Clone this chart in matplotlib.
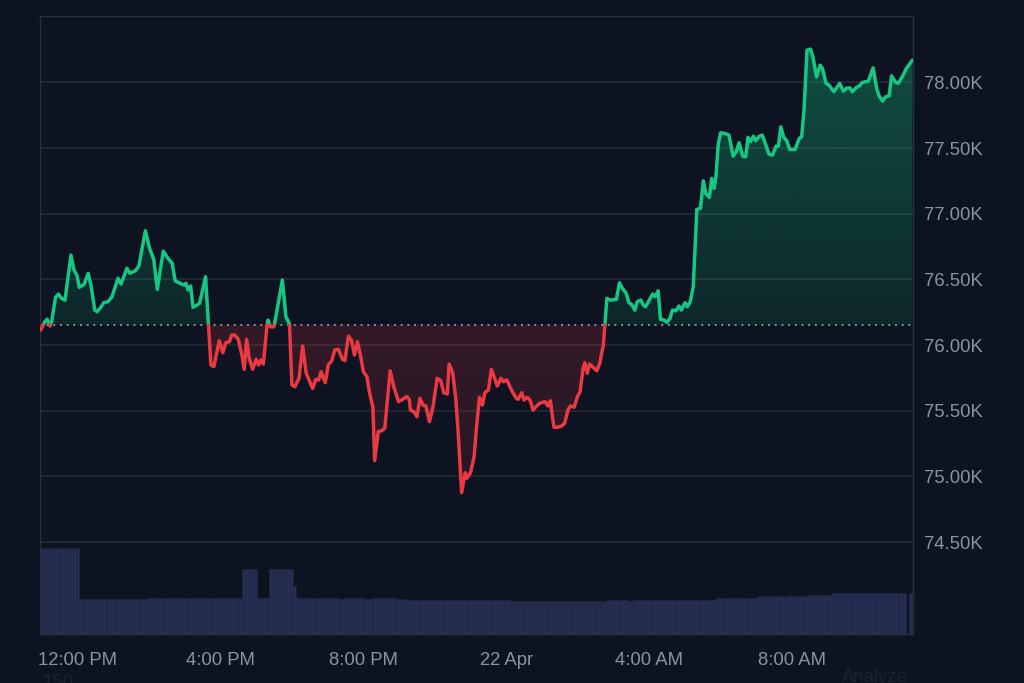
#!/usr/bin/env python3
"""
24h price chart with baseline colouring and a volume strip underneath.
"""

import numpy as np
import matplotlib
matplotlib.use("Agg")
import matplotlib.pyplot as plt
import matplotlib.colors as mcolors

# minutes relative to 12:00 PM
times = [
    -62, -55, -51, -46, -43, -37, -32, -27, -21, -11, -6, -1, 3, 11, 18, 23, 29, 33, 39, 44,
    51, 58, 68, 73, 83, 88, 97, 103, 114, 121, 128, 134, 144, 152, 159, 164, 172, 179, 182, 186,
    190, 194, 205, 215,
    224, 229, 238, 244, 249, 255, 259, 264, 270, 276, 280, 284, 288, 294, 300, 304, 308, 312, 318, 320,
    324, 330, 344, 350, 356, 360, 365, 372, 378, 384, 390, 395, 400, 405, 409, 416, 421, 427, 432, 438,
    445, 449, 455, 460, 465, 470, 475, 480, 486, 490, 496, 499, 505, 511, 516, 525, 531, 539, 546, 553,
    557, 559, 565, 570, 575, 580, 585, 591, 597, 604, 610, 615, 621, 624, 630, 635, 639, 645, 651, 654,
    660, 666, 670, 675, 680, 684, 690, 695, 699, 705, 711, 715, 721, 726, 731, 737, 740, 746, 750, 755,
    760, 765, 771, 776, 785, 790, 794, 800, 806, 813, 818, 824, 828, 834, 839, 844, 849, 852, 856, 860,
    866, 872, 877, 883,
    889, 895, 905, 910, 915, 921, 926, 930, 936, 940, 946, 950, 954, 960, 966, 970, 975, 979, 985, 990,
    995, 999, 1005, 1010, 1014, 1020, 1024, 1029, 1034, 1040, 1046, 1051, 1055, 1061, 1065, 1069, 1072,
    1076, 1080, 1087, 1094, 1101, 1106, 1111, 1117, 1122, 1126, 1130, 1135, 1139, 1145, 1150, 1156, 1161,
    1167, 1173, 1177, 1181, 1186, 1191, 1196, 1205, 1212, 1216, 1220, 1225, 1231, 1235, 1241, 1247, 1251,
    1257, 1262, 1270, 1276, 1280, 1286, 1291, 1297, 1301, 1307, 1313, 1318, 1328, 1332, 1336, 1342, 1346,
    1352, 1357, 1363, 1367, 1374, 1378, 1385, 1392, 1402,
]

prices = [
    76114, 76177, 76196, 76145, 76190, 76363, 76388, 76355, 76342, 76685, 76571, 76533, 76439, 76462,
    76546, 76444, 76266, 76253, 76287, 76322, 76330, 76368, 76508, 76464, 76584, 76546, 76565, 76601,
    76870, 76736, 76652, 76424, 76715, 76660, 76622, 76489, 76470, 76457, 76470, 76419, 76449, 76287,
    76317, 76520,
    75848, 75835, 76033, 75941, 76018, 76025, 76076, 76076, 76043, 75924, 75815, 76043, 75906, 75815,
    75891, 75848, 75886, 75855, 76145, 76190, 76139, 76139, 76495, 76215, 76160, 75696, 75683, 75747,
    75992, 75785, 75721, 75670, 75739, 75734, 75797, 75713, 75848, 75881, 75962, 75967, 75891, 75881,
    76068, 76038, 75924, 76025, 75924, 75797, 75759, 75645, 75526, 75120, 75340, 75348, 75366, 75804,
    75683, 75569, 75587, 75607, 75587, 75505, 75492, 75454, 75594, 75543, 75536, 75416, 75530, 75747,
    75728, 75637, 75627, 75855, 75789, 75602, 75353, 74876, 75028, 74986, 75028, 75150, 75374, 75602,
    75543, 75637, 75658, 75815, 75764, 75688, 75747, 75721, 75734, 75683, 75637, 75594, 75587, 75637,
    75581, 75602, 75581, 75505, 75536, 75556, 75569, 75536, 75576, 75374, 75374, 75384, 75404, 75511,
    75536, 75526, 75602, 75645, 75823, 75865, 75785, 75855, 75830, 75804, 75861, 76000,
    76355, 76342, 76348, 76474, 76431, 76398, 76322, 76312, 76266, 76330, 76342, 76304, 76291, 76342,
    76388, 76368, 76413, 76196, 76190, 76173, 76203, 76266, 76261, 76297, 76266, 76322, 76291, 76330,
    76444, 77033, 77040, 77250, 77154, 77124, 77269, 77192, 77281, 77530, 77616, 77611, 77598, 77438,
    77471, 77540, 77438, 77433, 77581, 77547, 77590, 77555, 77590, 77598, 77522, 77454, 77446, 77514,
    77514, 77661, 77581, 77555, 77489, 77489, 77573, 77585, 77788, 78245, 78253, 78194, 78042, 78131,
    78106, 77992, 77979, 77928, 77966, 77992, 77933, 77954, 77958, 77928, 77958, 77973, 77999, 78009,
    78060, 78110, 77954, 77897, 77857, 77890, 77897, 78049, 77999, 77992, 78042, 78106, 78169,
]

open_price = 76152

# volume stays flat for long stretches: (start minute, level)
vol_starts = [-63, 1, 117, 276, 301, 322, 362, 367, 437, 447, 483, 496, 536, 550, 729,
              889, 924, 933, 1074, 1144, 1186, 1190, 1228, 1265, 1394, 1398]
vol_levels = [857, 347, 363, 650, 363, 650, 480, 363, 347, 360, 347, 360, 350, 343, 330,
              343, 330, 343, 357, 377, 367, 377, 393, 413, 0, 413]

tick_minutes = [0, 240, 480, 720, 960, 1200]
tick_labels = ["12:00 PM", "4:00 PM", "8:00 PM", "22 Apr", "4:00 AM", "8:00 AM"]
price_ticks = [74500, 75000, 75500, 76000, 76500, 77000, 77500, 78000]

BG = "#0d1320"
GREEN = "#16c784"
RED = "#ea3943"
GRID = "#242a37"
TEXT = "#8b92a1"

plt.rcParams["font.family"] = ["Liberation Sans", "DejaVu Sans"]

t = np.array(times, dtype=float)
p = np.array(prices, dtype=float)

# add the points where the line crosses the open price so colours switch on the dotted line
tt, pp = [t[0]], [p[0]]
for i in range(1, len(t)):
    a, b = p[i - 1] - open_price, p[i] - open_price
    if a * b < 0:
        f = a / (a - b)
        tt.append(t[i - 1] + f * (t[i] - t[i - 1]))
        pp.append(open_price)
    tt.append(t[i])
    pp.append(p[i])
tt, pp = np.array(tt), np.array(pp)

xmin, xmax = -63, 1403
ymin, ymax = 73800, 78505

fig = plt.figure(figsize=(10.24, 6.83), dpi=100, facecolor=BG)
rect = [40 / 1024, 49 / 683, 873 / 1024, 618 / 683]

# volume strip lives in its own axes behind the price axes
ax_vol = fig.add_axes(rect)
ax_vol.set_facecolor(BG)
slots = np.arange(xmin, xmax, 5.0)
idx = np.searchsorted(vol_starts, slots + 2.5, side="right") - 1
vols = np.array(vol_levels, dtype=float)[idx]
ax_vol.bar(slots, vols, width=5.0, align="edge", color="#262f52",
           edgecolor="#1e2644", linewidth=0.4)
ax_vol.set_xlim(xmin, xmax)
ax_vol.set_ylim(0, max(vol_levels) * 7.21)
ax_vol.axis("off")

ax = fig.add_axes(rect)
ax.patch.set_visible(False)


def gradient_fill(ax, x, y1, y2, color, a_top, a_bot, y_top, y_bot):
    poly = ax.fill_between(x, y1, y2, facecolor="none", edgecolor="none")
    z = np.zeros((256, 1, 4))
    z[:, :, :3] = mcolors.to_rgb(color)
    z[:, 0, 3] = np.linspace(a_top, a_bot, 256)
    im = ax.imshow(z, aspect="auto", extent=[xmin, xmax, y_bot, y_top],
                   origin="upper", zorder=1)
    im.set_clip_path(poly.get_paths()[0], ax.transData)


gradient_fill(ax, tt, open_price, np.maximum(pp, open_price), GREEN, 0.36, 0.11, ymax, open_price)
gradient_fill(ax, tt, np.minimum(pp, open_price), open_price, RED, 0.18, 0.05, open_price, ymin)

ax.plot(tt, np.where(pp >= open_price, pp, np.nan), color=GREEN, lw=2.5, zorder=3,
        solid_joinstyle="round", solid_capstyle="round")
ax.plot(tt, np.where(pp <= open_price, pp, np.nan), color=RED, lw=2.5, zorder=3,
        solid_joinstyle="round", solid_capstyle="round")

ax.axhline(open_price, color="#9aa0ab", lw=1.3, dashes=(1, 2.7), zorder=2)

ax.set_xlim(xmin, xmax)
ax.set_ylim(ymin, ymax)

ax.set_yticks(price_ticks)
ax.set_yticklabels([f"{v / 1000:.2f}K" for v in price_ticks])
ax.yaxis.tick_right()
ax.set_xticks(tick_minutes)
ax.set_xticklabels(tick_labels)
ax.tick_params(axis="both", length=0, labelsize=13.3, colors=TEXT)
ax.tick_params(axis="y", pad=8)
ax.tick_params(axis="x", pad=13)
ax.grid(axis="y", color=GRID, lw=1.2)
ax.set_axisbelow(True)
for side in ["left", "right", "top", "bottom"]:
    ax.spines[side].set_color("#2a303c")
    ax.spines[side].set_linewidth(1.0)

# bits of the page peeking in at the bottom edge (cut off in the original too)
fig.text(43 / 1024, 9 / 683, "150", color="#1f2229", fontsize=13.3, va="top", ha="left")
fig.text(842 / 1024, 14 / 683, "Analyze", color="#1f2229", fontsize=13.3, va="top", ha="left")

fig.savefig("out.png", dpi=100, facecolor=BG)
